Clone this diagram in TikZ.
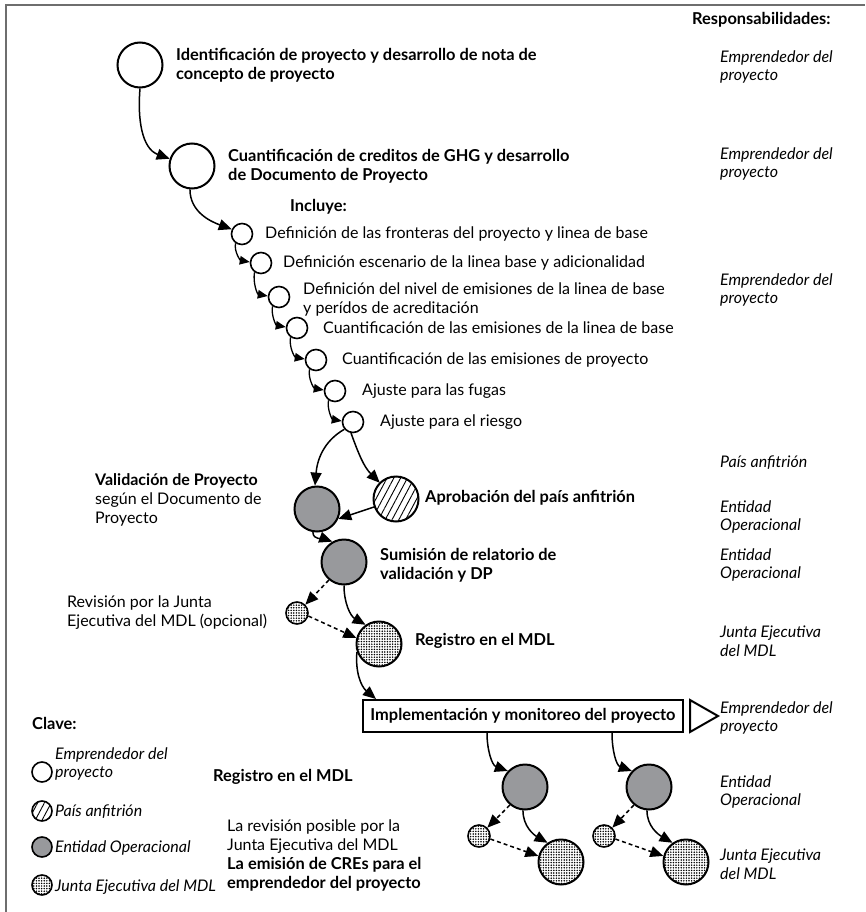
\documentclass[tikz,border=0pt]{standalone}
\usepackage{fontspec}
\setmainfont{Lato}
\usetikzlibrary{arrows.meta,positioning,patterns.meta}
\definecolor{opgray}{RGB}{152,153,156}
\definecolor{framegray}{RGB}{110,110,110}

\begin{document}
\begin{tikzpicture}[x=1pt,y=1pt]
  \tikzstyle{big}=[circle,draw,line width=2pt,minimum size=45pt,inner sep=0pt]
  \tikzstyle{sml}=[circle,draw,line width=1.6pt,minimum size=21pt,inner sep=0pt]
  \tikzstyle{op}=[fill=opgray]
  \tikzstyle{host}=[pattern={Lines[angle=62,distance=6pt,line width=0.9pt]}]
  \tikzstyle{jun}=[pattern={Dots[distance=2.6pt,radius=0.85pt]}]
  \tikzstyle{txt}=[anchor=west,align=left,inner sep=0pt,font=\fontsize{16}{19}\selectfont]
  \tikzstyle{bld}=[txt,font=\fontsize{16.4}{19}\selectfont\bfseries]
  \tikzstyle{resp}=[txt,font=\fontsize{16}{18.5}\selectfont\itshape]
  \tikzstyle{arr}=[-{Triangle[length=13pt,width=11pt]},line width=1.5pt]
  \tikzstyle{sarr}=[-{Triangle[length=10pt,width=8.5pt]},line width=1.3pt]
  \tikzstyle{darr}=[arr,dash pattern=on 4pt off 3pt]

  \useasboundingbox (0,0) rectangle (865,-912);
  \draw[framegray,line width=1.5pt] (6,-912) -- (6,-5) -- (865,-5);

  % stages
  \node[big] (c1) at (140,-65) {};
  \node[big] (c2) at (192,-166) {};
  \node[sml] (s1) at (242,-234) {};
  \node[sml] (s2) at (261,-263) {};
  \node[sml] (s3) at (279,-297) {};
  \node[sml] (s4) at (297,-328) {};
  \node[sml] (s5) at (316,-360) {};
  \node[sml] (s6) at (335,-391) {};
  \node[sml] (s7) at (353,-422) {};
  \node[big,op] (val) at (317,-509) {};
  \node[big,host] (apr) at (396,-499) {};
  \node[big,op] (sum) at (344,-562) {};
  \node[sml,jun,minimum size=22pt] (rev) at (297,-613) {};
  \node[big,jun] (reg) at (379,-644) {};
  \node[draw,line width=2pt,minimum width=320pt,minimum height=32pt,
        font=\fontsize{16.4}{19}\selectfont\bfseries] (box) at (523,-716) {Implementación y monitoreo del proyecto};
  \draw[line width=2pt] (690,-700) -- (718,-716) -- (690,-732) -- cycle;
  \node[big,op] (ea) at (525,-787) {};
  \node[sml,jun,minimum size=22pt] (ra) at (479,-836) {};
  \node[big,jun] (ja) at (561,-862) {};
  \node[big,op] (eb) at (649,-787) {};
  \node[sml,jun,minimum size=22pt] (rb) at (604,-836) {};
  \node[big,jun] (jb) at (686,-862) {};

  % connectors
  \draw[arr] (c1.south) to[out=-95,in=160] (c2.162);
  \draw[arr] (c2.-95) to[out=-90,in=160] (s1.155);
  \foreach \a/\b in {s1/s2,s2/s3,s3/s4,s4/s5,s5/s6,s6/s7}
    \draw[sarr] (\a.-125) to[out=-100,in=170] (\b.175);
  \draw[arr] (s7.-140) to[out=-150,in=85] (val.95);
  \draw[arr] (s7.-100) to[out=-70,in=135] (apr.135);
  \draw[arr] (apr.200) -- (val.-25);
  \draw[arr] (val.-100) to[out=-90,in=160] (sum.120);
  \draw[darr] (sum.-130) -- (rev.45);
  \draw[arr] (sum.-90) to[out=-90,in=150] (reg.125);
  \draw[darr] (rev.-15) -- (reg.165);
  \draw[arr] (reg.-160) to[out=-95,in=140] ([xshift=14pt]box.north west);
  \draw[arr] ([xshift=125pt]box.south west) to[out=-90,in=160] (ea.137);
  \draw[arr] ([xshift=250pt]box.south west) to[out=-90,in=160] (eb.137);
  \foreach \e/\r/\j in {ea/ra/ja,eb/rb/jb}{
    \draw[darr] (\e.-130) -- (\r.45);
    \draw[arr] (\e.-95) to[out=-90,in=150] (\j.125);
    \draw[darr] (\r.-15) -- (\j.165);
  }

  % labels
  \node[bld] (t1) at (176,-65) {Identificación de proyecto y desarrollo de nota de\\concepto de proyecto};
  \node[bld] (t2) at (228,-166) {Cuantificación de creditos de GHG y desarrollo\\de Documento de Proyecto};
  \node[bld] (inc) at (290,-207) {Incluye:};
  \node[txt] (u1) at (265,-234) {Definición de las fronteras del proyecto y linea de base};
  \node[txt] (u2) at (283,-263) {Definición escenario de la linea base y adicionalidad};
  \node[txt] (u3) at (303,-299) {Definición del nivel de emisiones de la linea de base\\y perídos de acreditación};
  \node[txt] (u4) at (323,-328) {Cuantificación de las emisiones de la linea de base};
  \node[txt] (u5) at (342,-360) {Cuantificación de las emisiones de proyecto};
  \node[txt] (u6) at (362,-391) {Ajuste para las fugas};
  \node[txt] (u7) at (380,-422) {Ajuste para el riesgo};
  \node[txt] (tval) at (95,-500) {\textbf{Validación de Proyecto}\\según el Documento de\\Proyecto};
  \node[bld] (tapr) at (425,-498) {Aprobación del país anfitrión};
  \node[bld] (tsum) at (380,-565) {Sumisión de relatorio de\\validación y DP};
  \node[txt] (trev) at (67,-613) {Revisión por la Junta\\Ejecutiva del MDL (opcional)};
  \node[bld] (treg) at (415,-641) {Registro en el MDL};

  % key
  \node[bld] (key) at (32,-723) {Clave:};
  \node[sml,minimum size=20pt] (k1) at (42,-772) {};
  \node[sml,host,minimum size=20pt] (k2) at (42,-811) {};
  \node[sml,op,minimum size=20pt] (k3) at (42,-847) {};
  \node[sml,jun,minimum size=20pt] (k4) at (42,-885) {};
  \node[resp] (tk1) at (55,-764) {Emprendedor del\\proyecto};
  \node[resp] (tk2) at (55,-812) {País anfitrión};
  \node[resp] (tk3) at (55,-848) {Entidad Operacional};
  \node[resp] (tk4) at (55,-887) {Junta Ejecutiva del MDL};
  \node[bld] (treg2) at (213,-777) {Registro en el MDL};
  \node[txt] (tposs) at (227,-837) {La revisión posible por la\\Junta Ejecutiva del MDL};
  \node[bld] (tcre) at (227,-874) {La emisión de CREs para el\\emprendedor del proyecto};

  % responsibilities
  \node[bld] (resp) at (692,-20) {Responsabilidades:};
  \node[resp] (r1) at (720,-67) {Emprendedor del\\proyecto};
  \node[resp] (r2) at (720,-164) {Emprendedor del\\proyecto};
  \node[resp] (r3) at (720,-290) {Emprendedor del\\proyecto};
  \node[resp] (r4) at (720,-463) {País anfitrión};
  \node[resp] (r5) at (720,-517) {Entidad\\Operacional};
  \node[resp] (r6) at (720,-565) {Entidad\\Operacional};
  \node[resp] (r7) at (720,-641) {Junta Ejecutiva\\del MDL};
  \node[resp] (r8) at (720,-718) {Emprendedor del\\proyecto};
  \node[resp] (r9) at (720,-792) {Entidad\\Operacional};
  \node[resp] (r10) at (720,-864) {Junta Ejecutiva\\del MDL};
\end{tikzpicture}
\end{document}
